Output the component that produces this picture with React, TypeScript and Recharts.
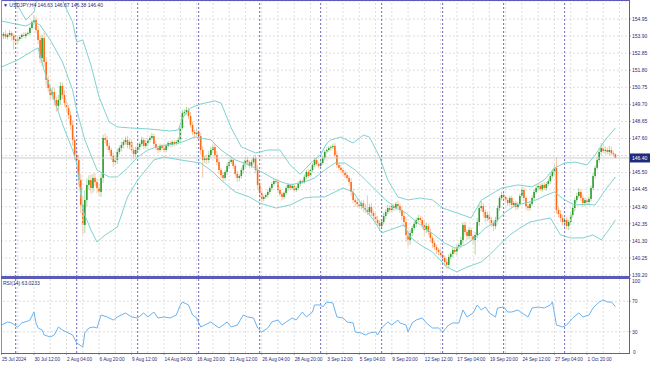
import React from 'react';
import { ComposedChart, Bar, Line, XAxis, YAxis, CartesianGrid, ReferenceLine } from 'recharts';

// ---------- data ----------
const firstOpen = 153.95;
const closes = [
  153.91,154.03,153.84,153.97,154.09,153.91,153.66,153.60,153.72,153.84,
  153.97,153.91,154.03,154.09,154.40,154.77,154.89,154.27,153.66,152.55,
  153.78,152.31,151.20,150.70,150.27,150.46,149.97,149.60,149.97,150.83,
  150.27,149.78,149.47,149.04,148.43,147.51,146.58,146.28,145.04,143.51,
  142.28,143.81,144.74,145.04,144.55,145.17,144.92,144.55,144.31,145.17,
  147.63,147.51,147.14,146.89,146.52,146.15,146.28,146.77,147.01,147.20,
  147.38,147.51,147.20,147.38,146.89,146.64,146.89,147.07,147.26,147.51,
  147.14,147.32,147.51,147.63,147.75,147.26,147.01,146.89,147.14,147.01,
  146.89,147.14,147.32,147.20,147.38,147.26,147.38,147.51,148.25,149.17,
  149.23,149.35,148.98,148.43,148.00,147.88,148.00,147.75,146.89,146.28,
  146.40,146.28,146.58,146.89,147.07,146.58,146.15,145.66,145.35,145.17,
  145.54,145.91,146.15,146.28,145.91,145.42,145.17,145.29,145.66,145.97,
  146.28,146.15,145.91,146.15,146.40,145.66,144.74,144.25,143.88,144.00,
  144.12,144.31,144.55,144.80,144.98,144.92,144.43,144.18,144.00,144.25,
  144.55,144.74,144.55,144.68,144.43,144.55,144.80,144.98,144.92,145.23,
  145.54,145.29,145.66,145.97,146.28,146.03,145.91,146.09,146.40,146.77,
  146.89,147.01,147.07,147.14,146.58,145.97,145.79,145.66,145.48,145.35,
  145.17,144.92,144.31,143.81,143.69,143.57,143.44,143.63,143.32,143.20,
  143.08,143.38,143.01,142.83,142.58,142.40,142.21,142.46,142.83,143.08,
  143.32,143.20,143.44,143.32,143.57,143.44,143.20,142.83,142.46,141.66,
  141.35,141.78,142.09,142.34,142.58,142.71,142.58,142.28,141.97,142.21,
  141.85,141.48,141.17,140.92,140.74,140.62,140.43,140.25,140.00,139.82,
  140.31,140.49,140.74,140.62,140.92,141.05,141.35,142.28,141.85,141.60,
  141.97,141.60,141.35,141.66,142.46,143.32,143.44,143.08,142.71,142.89,
  142.58,142.40,142.21,142.58,143.32,143.94,144.12,144.00,143.81,143.63,
  143.94,143.51,143.63,143.38,143.57,144.06,144.43,143.94,143.44,143.32,
  143.57,143.94,144.31,144.55,144.68,144.49,144.74,144.55,144.80,144.98,
  145.29,145.54,145.79,143.20,142.95,142.71,142.46,142.58,142.21,142.46,
  142.89,143.32,143.81,144.06,144.31,143.94,143.63,143.81,143.69,143.88,
  144.55,145.29,145.79,146.28,146.77,147.01,146.83,146.89,146.77,146.89,
  146.70,146.63,146.40,
];
const wickHi = [
  .15,.12,.2,.1,.18,.1,.12,.15,.1,.12, .1,.15,.12,.1,.1,.12,.3,.2,.25,.3,
  .2,.35,.3,.25,.2,.3,.25,.2,.3,.25, .2,.3,.15,.2,.25,.3,.2,.35,.3,.4,
  .5,.6,.4,.3,.35,.25,.3,.2,.25,.3, .2,.3,.25,.2,.15,.2,.25,.2,.15,.2,
  .15,.2,.25,.15,.2,.15,.2,.15,.12,.2, .15,.2,.12,.15,.2,.15,.2,.12,.15,.1,
  .15,.12,.1,.15,.12,.1,.12,.15,.1,.2, .15,.2,.15,.25,.2,.15,.2,.12,.2,.25,
  .15,.2,.25,.2,.15,.2,.25,.2,.15,.2, .12,.2,.15,.2,.12,.15,.2,.12,.15,.2,
  .15,.2,.12,.15,.12,.2,.3,.2,.15,.12, .1,.15,.12,.1,.15,.12,.2,.15,.12,.1,
  .15,.12,.1,.15,.12,.1,.15,.12,.1,.15, .12,.15,.1,.12,.15,.12,.1,.15,.12,.1,
  .15,.12,.1,.15,.2,.25,.15,.2,.12,.15, .2,.15,.25,.2,.15,.2,.35,.15,.2,.25,
  .9,.2,.25,.15,.2,.25,.2,.15,.2,.15, .2,.15,.2,.15,.12,.2,.15,.2,.25,.3,
  .35,.2,.15,.2,.15,.2,.15,.2,.25,.2, .15,.2,.15,.12,.15,.12,.15,.12,.15,.2,
  .15,.12,.15,.12,.15,.12,.2,.15,.2,.15, .2,.15,.12,.2,.25,.2,.3,.2,.15,.2,
  .15,.2,.15,.2,.15,.12,.2,.15,.12,.15, .12,.15,.12,.15,.12,.15,.2,.15,.12,.15,
  .12,.15,.12,.15,.12,.15,.12,.15,.12,.15, .12,.15,.2,.67,.2,.25,.2,.15,.2,.15,
  .15,.2,.15,.2,.25,.15,.2,.15,.12,.15, .15,.2,.15,.2,.25,.3,.25,.2,.15,.25,
  .2,.15,.04,
];
const wickLo = [
  .15,.2,.12,.15,.1,.3,.6,.2,.15,.1, .12,.1,.15,.1,.12,.1,.15,.2,.25,.3,
  .5,.3,.35,.25,.3,.25,.3,.35,.25,.3, .25,.2,.3,.25,.3,.35,.3,.25,.4,.5,
  .6,.5,.4,.3,.35,.3,.25,.3,.25,.3, .3,.2,.25,.2,.25,.3,.2,.25,.15,.2,
  .2,.15,.2,.25,.2,.3,.2,.15,.2,.15, .2,.15,.2,.15,.12,.2,.15,.2,.12,.15,
  .12,.15,.1,.15,.12,.15,.1,.15,.12,.1, .2,.15,.2,.15,.2,.25,.15,.2,.3,1.1,
  .2,.25,.2,.15,.2,.25,.2,.25,.2,.25, .15,.2,.15,.12,.2,.15,.25,.2,.15,.2,
  .15,.2,.15,.12,.15,.2,.25,.3,.2,.15, .12,.15,.12,.15,.1,.12,.2,.15,.2,.15,
  .12,.15,.12,.1,.15,.12,.1,.15,.12,.1, .15,.12,.1,.15,.12,.1,.15,.12,.1,.15,
  .12,.1,.15,.12,.15,.2,.15,.2,.15,.2, .15,.2,.25,.2,.3,.2,.15,.2,.25,.2,
  .2,.25,.2,.25,.2,.15,.3,.2,.15,.2, .15,.2,.15,.2,.15,.12,.2,.25,.3,.4,
  .4,.3,.2,.15,.2,.15,.2,.25,.3,.2, .2,.25,.3,.2,.25,.2,.15,.2,.25,.24,
  .2,.15,.2,.15,.2,.15,.2,.25,.2,.25, .2,.25,.3,.9,.2,.25,.2,.3,.25,.2,
  .2,.25,.3,.2,.15,.2,.15,.2,.15,.2, .15,.2,.15,.2,.15,.12,.15,.2,.25,.2,
  .15,.12,.15,.12,.15,.12,.15,.12,.15,.12, .15,.12,.15,.25,.2,.25,.2,.3,.2,.25,
  .2,.15,.2,.15,.12,.2,.25,.2,.15,.2, .15,.12,.15,.12,.15,.2,.15,.2,.15,.2,
  .15,.15,.02,
];

const bbUpBars = [0,5,12,16,19,24,29,31,35,37,40,44,48,53,57,63,73,83,87,89,93,98,105,108,113,118,125,131,137,142,147,153,157,160,162,167,173,178,181,186,190,195,200,206,212,217,224,231,236,246,254,261,267,272,277,282,288,292,297,302];
const bbUpVals = [158.58,156.43,154.89,155.38,157.04,158.58,156.43,155.81,154.77,153.54,153.66,152.12,150.15,148.61,148.31,148.25,148.18,148.06,148.12,148.86,149.48,149.72,149.91,149.78,148.25,147.08,146.71,146.89,146.89,145.97,145.40,146.20,146.60,147.30,147.51,147.69,147.32,147.81,147.69,146.46,145.05,144.00,143.82,143.94,143.82,143.32,143.02,142.71,143.80,144.55,144.74,144.62,145.05,145.78,146.09,146.15,145.97,146.58,147.51,148.25];
const bbMidBars = [0,7,12,16,19,24,30,35,37,41,47,53,57,62,67,72,78,85,89,95,103,108,115,122,128,135,142,149,154,159,164,169,174,179,184,189,194,199,203,208,213,218,223,228,233,238,243,248,253,258,263,267,272,277,282,287,292,297,302];
const bbMidVals = [154.83,154.64,154.52,154.77,154.58,153.66,152.31,150.58,149.35,147.51,145.66,145.23,145.23,145.78,146.46,146.89,147.14,147.26,147.38,147.69,147.51,146.89,146.28,145.97,145.54,145.05,144.74,144.92,145.17,145.66,146.09,146.09,145.66,145.05,144.43,143.82,143.32,143.02,142.59,142.09,141.66,141.17,140.86,141.05,141.48,142.09,142.46,143.08,143.51,143.63,143.82,144.06,144.31,143.82,143.51,143.55,143.51,144.43,145.23];
const bbLoBars = [0,8,16,18,21,26,30,35,37,40,44,47,51,57,62,67,75,80,88,98,104,108,115,122,127,135,142,149,154,159,168,173,178,183,187,191,198,201,206,212,219,224,229,236,240,245,250,255,260,265,270,275,280,286,291,295,298,302];
const bbLoVals = [152.00,152.43,153.04,153.17,151.81,149.97,148.49,146.89,146.09,143.20,141.97,141.23,141.66,142.15,144.00,145.05,146.28,146.46,146.28,146.09,145.54,145.05,144.31,144.00,143.63,143.32,143.51,143.94,144.00,144.00,144.55,144.31,143.39,142.59,141.79,141.97,142.28,141.54,141.05,140.62,139.69,139.39,139.69,140.00,140.43,141.05,141.66,142.09,142.46,142.59,142.71,141.66,141.48,141.48,141.66,141.36,141.85,142.59];

const rsiBars = [0,3,5,8,10,13,14,16,17,18,20,21,24,26,28,30,32,35,37,40,41,43,45,47,49,52,55,57,61,64,67,70,72,75,77,80,83,86,88,89,92,94,96,98,100,103,105,107,111,113,116,119,121,124,126,128,131,133,136,138,140,143,145,148,150,153,154,157,158,160,163,165,168,170,173,174,177,179,181,184,185,187,190,192,195,196,199,200,202,204,207,209,212,215,217,220,222,225,227,229,232,234,236,238,240,243,244,247,249,251,254,256,259,261,264,267,270,271,273,276,278,281,284,286,289,291,294,296,298,300,302];
const rsiVals = [38.8,42.8,41.5,36.2,41.5,44.1,45.4,55.9,41.5,34.9,32.3,25.7,23.1,25.7,36.2,32.3,29.6,25.7,15.2,9.9,28.3,34.9,36.2,34.9,52.0,49.4,45.4,49.4,54.6,49.4,48.1,54.6,49.4,55.9,48.1,49.4,48.1,52.0,65.2,69.1,65.2,52.0,48.1,36.2,38.8,42.8,38.8,34.9,42.8,36.2,38.8,52.0,49.4,48.1,34.9,29.6,34.9,42.8,45.4,38.8,42.8,48.1,45.4,55.9,49.4,55.9,65.2,65.2,62.5,69.1,67.8,49.4,48.1,42.8,41.5,29.6,28.3,25.7,28.3,29.6,25.7,34.9,42.8,38.8,45.4,41.5,38.8,29.6,41.5,45.4,48.1,41.5,34.9,34.9,29.6,38.8,41.5,41.5,58.6,49.4,54.6,65.2,58.6,62.5,54.6,49.4,61.2,62.5,55.9,55.9,58.6,54.6,49.4,61.2,62.5,61.2,65.2,69.1,38.8,36.2,38.8,48.1,54.6,49.4,52.0,61.2,69.1,71.7,69.1,69.1,63.02];

const priceTicks = [139.20,140.25,141.30,142.35,143.40,144.45,145.50,146.55,147.60,148.65,149.70,150.75,151.80,152.85,153.90,154.95];
const rsiTicks = [30, 70, 100];
const timeLabelBars = [0,16,32,48,64,80,96,112,128,144,160,176,192,208,224,240,256,272,288];
const timeLabels = ['25 Jul 2024','30 Jul 12:00','2 Aug 04:00','6 Aug 20:00','9 Aug 12:00','14 Aug 04:00','16 Aug 20:00','21 Aug 12:00','26 Aug 04:00','28 Aug 20:00','3 Sep 12:00','5 Sep 04:00','9 Sep 20:00','12 Sep 12:00','17 Sep 04:00','19 Sep 20:00','24 Sep 12:00','27 Sep 04:00','1 Oct 20:00'];
const weekStartBars = [7,37,67,97,127,157,187,217,247,277];
const lastBar = { o: 146.63, h: 146.67, l: 146.38, c: 146.40 };
const rsiLast = 63.0233;

// ---------- derived tables ----------
const candles = closes.map((c, i) => {
  const o = i === 0 ? firstOpen : closes[i - 1];
  return { i, o, c, h: Math.max(o, c) + wickHi[i], l: Math.min(o, c) - wickLo[i] };
});
const upData = bbUpBars.map((b, k) => ({ i: b, up: bbUpVals[k] }));
const midData = bbMidBars.map((b, k) => ({ i: b, mid: bbMidVals[k] }));
const loData = bbLoBars.map((b, k) => ({ i: b, lo: bbLoVals[k] }));
const rsiData = rsiBars.map((b, k) => ({ i: b, rsi: rsiVals[k] }));
const gridBars: number[] = [];
for (let b = 0; b <= 304; b += 8) gridBars.push(b);

const X_DOMAIN: [number, number] = [-0.23, 308.67];
const Y_DOMAIN: [number, number] = [139.077, 156.057];
const FONT = 'Liberation Sans, Arial, sans-serif';
const AXIS = '#5c5cb8';
const TXT = '#2a2a78';
const GRID = '#dedede';
const BAND = '#7fd3cf';

const Candle = (props: any) => {
  let { x, y, width, height, payload } = props;
  if (!payload || x == null || y == null) return null;
  if (height < 0) { y += height; height = -height; }
  const { o, c, h, l } = payload;
  const cx = x + width / 2;
  const ppu = height / (h - l || 1);
  const top = y + (h - Math.max(o, c)) * ppu;
  const bot = y + (h - Math.min(o, c)) * ppu;
  const col = c >= o ? '#2f9e2f' : '#ff6a14';
  return (
    <g>
      <rect x={cx - 0.5} y={y} width={1} height={height} fill={col} fillOpacity={0.4} />
      <rect x={cx - 0.8} y={top} width={1.6} height={Math.max(bot - top, 0.8)} fill={col} />
    </g>
  );
};

const PriceTick = (p: any) => {
  const v = p.payload.value;
  if (Math.abs(v - 146.55) < 0.001) return null;
  return (
    <g>
      <line x1={p.x} x2={p.x + 2} y1={p.y} y2={p.y} stroke={AXIS} strokeWidth={0.6} />
      <text x={p.x + 3} y={p.y + 1.8} fontSize={5} fontFamily={FONT} fill={TXT}>{v.toFixed(2)}</text>
    </g>
  );
};

const PriceTag = (p: any) => {
  const vb = p.viewBox || {};
  const x0 = (vb.x || 0) + (vb.width || 0);
  const y0 = vb.y || 0;
  return (
    <g>
      <rect x={x0} y={y0 - 4.5} width={21} height={9} fill="#1f2c7e" />
      <text x={x0 + 3} y={y0 + 1.8} fontSize={5} fontFamily={FONT} fill="#ffffff">{lastBar.c.toFixed(2)}</text>
    </g>
  );
};

const RsiTick = (p: any) => {
  const v = p.payload.value;
  const dy = v === 100 ? 2.7 : 0;
  return (
    <g>
      <line x1={p.x} x2={p.x + 2} y1={p.y} y2={p.y} stroke={AXIS} strokeWidth={0.6} />
      <text x={p.x + 3} y={p.y + 1.8 + dy} fontSize={5} fontFamily={FONT} fill={TXT}>{String(v)}</text>
    </g>
  );
};

const TimeTick = (p: any) => {
  const idx = timeLabelBars.indexOf(p.payload.value);
  return (
    <g>
      <line x1={p.x} x2={p.x} y1={p.y} y2={p.y + 2} stroke={AXIS} strokeWidth={0.6} />
      <text x={p.x + 0.5} y={p.y + 7.8} fontSize={4.7} fontFamily={FONT} fill={TXT}>{timeLabels[idx]}</text>
    </g>
  );
};

export default function App() {
  const line = (c: string) => ({ position: 'absolute' as const, background: c });
  return (
    <div style={{ position: 'fixed', left: 0, top: 0, width: 650, height: 366, background: '#ffffff', overflow: 'hidden' }}>
      <div style={{ position: 'absolute', left: 0, top: 0 }}>
        <ComposedChart width={650} height={277} data={candles} margin={{ top: 1, right: 0, left: 1, bottom: 0 }}>
          <CartesianGrid vertical={false} stroke={GRID} strokeDasharray="2 2" />
          <XAxis type="number" dataKey="i" domain={X_DOMAIN} allowDataOverflow hide />
          <YAxis orientation="right" width={21} domain={Y_DOMAIN} ticks={priceTicks} allowDataOverflow interval={0}
            axisLine={false} tickLine={false} tickSize={0} tickMargin={0} tick={<PriceTick />} />
          {gridBars.map((b) => <ReferenceLine key={'g' + b} x={b} stroke={GRID} strokeDasharray="2 2" />)}
          {weekStartBars.map((b) => <ReferenceLine key={'w' + b} x={b} stroke="#5a5ab8" strokeDasharray="2 2" strokeWidth={0.9} />)}
          <ReferenceLine y={lastBar.c} stroke="#cccccc" label={<PriceTag />} />
          <Line data={upData} dataKey="up" stroke={BAND} strokeWidth={1} dot={false} isAnimationActive={false} />
          <Line data={midData} dataKey="mid" stroke={BAND} strokeWidth={1} dot={false} isAnimationActive={false} />
          <Line data={loData} dataKey="lo" stroke={BAND} strokeWidth={1} dot={false} isAnimationActive={false} />
          <Bar dataKey={(d: any) => [d.l, d.h]} shape={<Candle />} barSize={2} isAnimationActive={false} />
        </ComposedChart>
      </div>
      <div style={{ position: 'absolute', left: 0, top: 278 }}>
        <ComposedChart width={650} height={88} data={rsiData} margin={{ top: 0.5, right: 0, left: 1, bottom: 0 }}>
          <XAxis type="number" dataKey="i" domain={X_DOMAIN} allowDataOverflow ticks={timeLabelBars} interval={0}
            axisLine={false} tickLine={false} tickSize={0} tickMargin={0} height={13} tick={<TimeTick />} />
          <YAxis orientation="right" width={21} domain={[2, 100]} ticks={rsiTicks} allowDataOverflow interval={0}
            axisLine={false} tickLine={false} tickSize={0} tickMargin={0} tick={<RsiTick />} />
          {gridBars.map((b) => <ReferenceLine key={'g' + b} x={b} stroke={GRID} strokeDasharray="2 2" />)}
          <ReferenceLine y={70} stroke={GRID} strokeDasharray="2 2" />
          <ReferenceLine y={30} stroke={GRID} strokeDasharray="2 2" />
          {weekStartBars.map((b) => <ReferenceLine key={'w' + b} x={b} stroke="#5a5ab8" strokeDasharray="2 2" strokeWidth={0.9} />)}
          <Line dataKey="rsi" stroke="#6cb2ef" strokeWidth={1} dot={false} isAnimationActive={false} />
        </ComposedChart>
      </div>
      {/* frame */}
      <div style={{ ...line(AXIS), left: 1, top: 0, width: 629, height: 1 }} />
      <div style={{ ...line('#8a8ad0'), left: 1, top: 0, width: 1, height: 354 }} />
      <div style={{ ...line(AXIS), left: 629, top: 0, width: 1, height: 354 }} />
      <div style={{ ...line(AXIS), left: 1, top: 276, width: 629, height: 3 }} />
      <div style={{ ...line(AXIS), left: 1, top: 353, width: 629, height: 1 }} />
      <svg width={650} height={366} style={{ position: 'absolute', left: 0, top: 0, pointerEvents: 'none' }}>
        <text x={3} y={6.8} fontSize={5} fontFamily={FONT} fill={TXT}>
          {`\u25BC USDJPY,H4 ${lastBar.o.toFixed(2)} ${lastBar.h.toFixed(2)} ${lastBar.l.toFixed(2)} ${lastBar.c.toFixed(2)}`}
        </text>
        <text x={3} y={285} fontSize={5} fontFamily={FONT} fill={TXT}>{`RSI(14) ${rsiLast.toFixed(4)}`}</text>
        <text x={633} y={353.5} fontSize={5} fontFamily={FONT} fill={TXT}>0</text>
      </svg>
    </div>
  );
}
